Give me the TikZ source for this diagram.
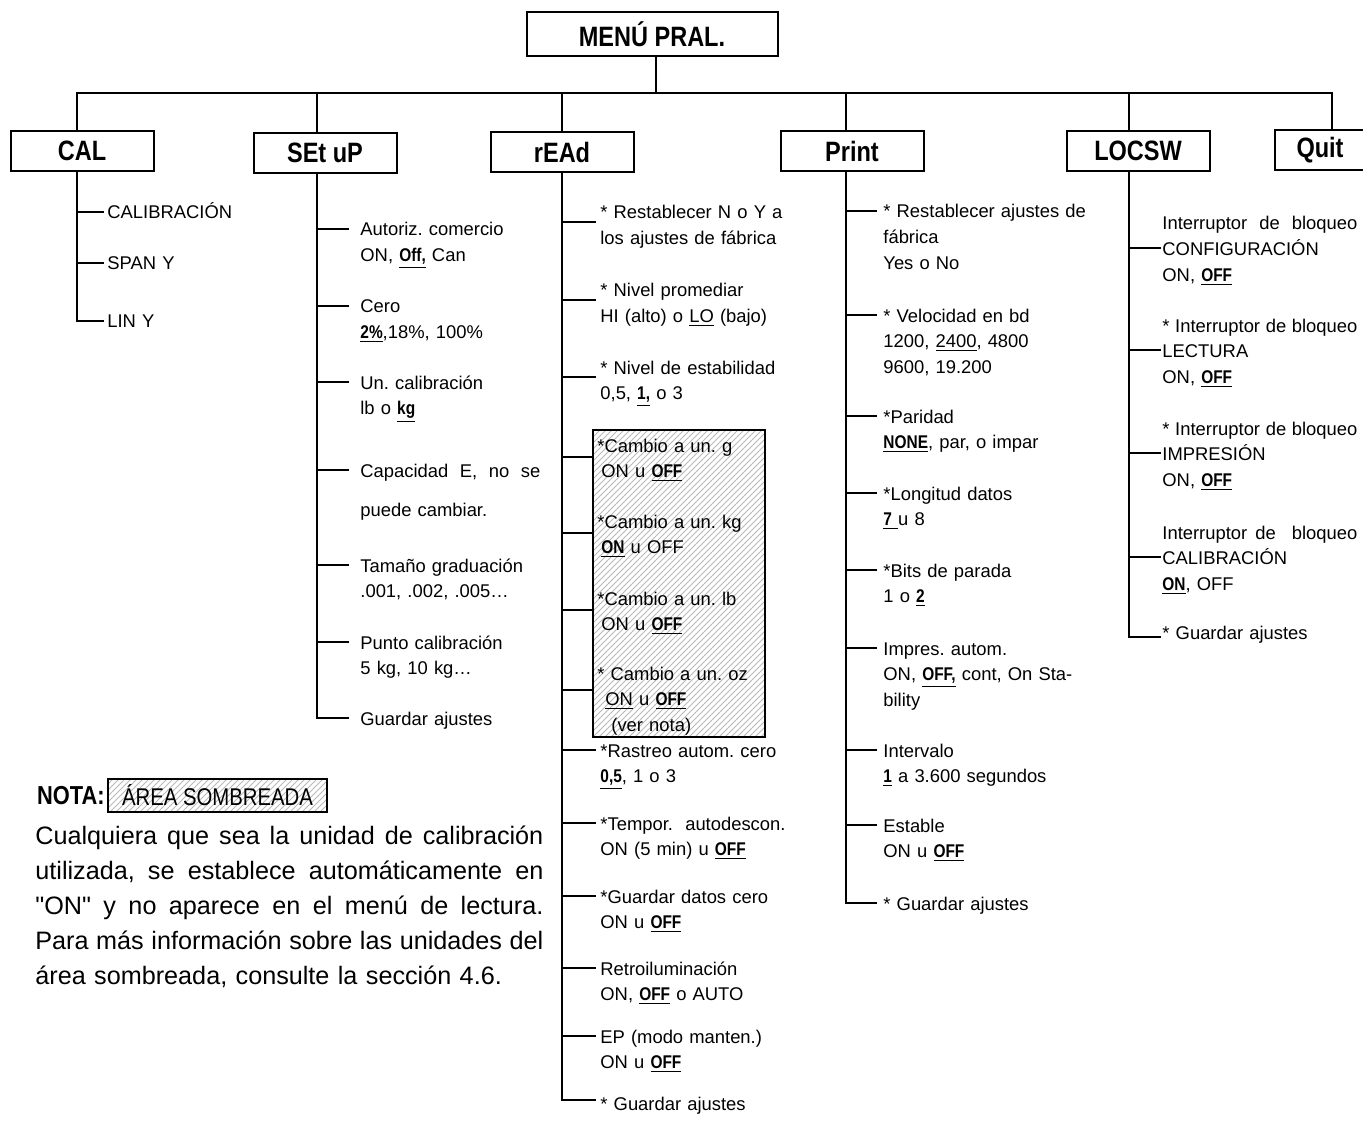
\documentclass[tikz,border=0pt]{standalone}
\usepackage{fontspec}
\setmainfont{Liberation Sans}[Ligatures=TeXOff]
\newfontfamily\condfont{Liberation Sans}[FakeStretch=0.84]
\usetikzlibrary{positioning,patterns,fit}
\newcommand\ubf[1]{\underline{{\condfont\bfseries #1}}}
\newcommand\spread[2]{\leavevmode\hbox to #1{\spaceskip=.28em plus 1fil\relax #2}}
\frenchspacing

\begin{document}
\begin{tikzpicture}[x=0.5pt,y=-0.5pt]
  \tikzset{menubox/.style={draw, line width=1pt, minimum width=71.5pt, minimum height=20pt,
      inner sep=0pt, font=\condfont\bfseries\fontsize{14}{14}\selectfont},
    item/.style={anchor=base west, inner sep=0pt, text width=125pt, align=left,
      font=\fontsize{9.2}{12.8}\selectfont},
    shaded/.style={draw, line width=1.2pt, pattern=north east lines, pattern color=gray!55},
    wire/.style={line width=1.1pt, line cap=rect}}
  \useasboundingbox (0,0) rectangle (1363,1144);

  \node[menubox, minimum width=125.5pt, minimum height=22pt] (main) at (652,34) {MENÚ PRAL.};
  \coordinate (top) at (656,93);
  \draw[wire] (main.south -| top) -- (top);
  \foreach \n/\x in {cal/77,setup/317,read/562,print/846,locsw/1129,quit/1332}
    \coordinate (d\n) at (\x,93);
  \draw[wire] (dcal) -- (dquit);

  \node[menubox] (cal) at (82,151) {CAL};
  \node[menubox] (setup) at (325,153) {SEt uP};
  \node[menubox] (read) at (562,152) {rEAd};
  \node[menubox] (print) at (852,151) {Print};
  \node[menubox] (locsw) at (1138,151) {LOCSW};
  \node[menubox, minimum width=45pt] (quit) at (1320,150) {Quit};
  \foreach \n in {cal,setup,read,print,locsw,quit}
    \draw[wire] (d\n) -- (d\n |- \n.north);

  % CAL
  \foreach \k/\yb/\txt in {1/212/{CALIBRACIÓN}, 2/263/{SPAN Y}, 3/321/{LIN Y}}{
    \coordinate (cb\k) at (77,\yb);
    \node[item] (ct\k) at (107,\yb+7) {\txt};
    \draw[wire, shorten >=2pt] (cb\k) -- (cb\k -| ct\k.west);
  }
  \draw[wire] (dcal |- cal.south) -- (cb3);

  % SEt uP
  \foreach \k/\yb/\txt in {1/229/{Autoriz. comercio\\ON, \ubf{Off,} Can},
      2/306/{Cero\\\ubf{2\%},18\%, 100\%},
      3/382/{Un. calibración\\lb o \ubf{kg}},
      4/470/{\spread{90pt}{Capacidad E, no se}\\[7pt]puede cambiar.},
      5/565/{Tamaño graduación\\.001, .002, .005…},
      6/642/{Punto calibración\\5 kg, 10 kg…},
      7/718/{Guardar ajustes}}{
    \coordinate (sb\k) at (317,\yb);
    \node[item] (st\k) at (360,\yb+7) {\txt};
    \draw[wire, shorten >=6pt] (sb\k) -- (sb\k -| st\k.west);
  }
  \draw[wire] (dsetup |- setup.south) -- (sb7);

  % rEAd
  \node[shaded, inner sep=0pt, fit={(593,430) (765,737)}] (shade) {};
  \foreach \k/\yb/\yt/\txt in {1/222/219/{* Restablecer N o Y a\\los ajustes de fábrica},
      2/300/297/{* Nivel promediar\\HI (alto) o \underline{LO} (bajo)},
      3/377/374/{* Nivel de estabilidad\\0,5, \ubf{1,} o 3},
      8/750/757/{*Rastreo autom. cero\\\ubf{0,5}, 1 o 3},
      9/823/830/{*Tempor.\ \ autodescon.\\ON (5 min) u \ubf{OFF}},
      10/896/903/{*Guardar datos cero\\ON u \ubf{OFF}},
      11/968/975/{Retroiluminación\\ON, \ubf{OFF} o AUTO},
      12/1036/1043/{EP (modo manten.)\\ON u \ubf{OFF}},
      13/1100/1110/{* Guardar ajustes}}{
    \coordinate (rb\k) at (562,\yb);
    \node[item] (rt\k) at (600,\yt) {\txt};
    \draw[wire, shorten >=2.5pt] (rb\k) -- (rb\k -| rt\k.west);
  }
  \foreach \k/\yb/\yt/\txt in {4/457/452/{*Cambio a un. g\\\hspace{2pt}ON u \ubf{OFF}},
      5/533/528/{*Cambio a un. kg\\\hspace{2pt}\ubf{ON} u OFF},
      6/610/605/{*Cambio a un. lb\\\hspace{2pt}ON u \ubf{OFF}},
      7/690/680/{* Cambio a un. oz\\\hspace{4pt}\underline{ON} u \ubf{OFF}\\\hspace{7pt}(ver nota)}}{
    \coordinate (rb\k) at (562,\yb);
    \node[item] (rt\k) at (597,\yt) {\txt};
    \draw[wire] (rb\k) -- (rb\k -| shade.west);
  }
  \draw[wire] (dread |- read.south) -- (rb13);

  % Print
  \foreach \k/\yb/\txt in {1/211/{* Restablecer ajustes de\\fábrica\\Yes o No},
      2/315/{* Velocidad en bd\\1200, \underline{2400}, 4800\\9600, 19.200},
      3/416/{*Paridad\\\ubf{NONE}, par, o impar},
      4/493/{*Longitud datos\\\ubf{7\ }u 8},
      5/570/{*Bits de parada\\1 o \ubf{2}},
      6/648/{Impres. autom.\\ON, \ubf{OFF,} cont, On Sta-\\bility},
      7/750/{Intervalo\\\ubf{1} a 3.600 segundos},
      8/825/{Estable\\ON u \ubf{OFF}},
      9/903/{* Guardar ajustes}}{
    \coordinate (pb\k) at (846,\yb);
    \node[item] (pt\k) at (883,\yb+7) {\txt};
    \draw[wire, shorten >=3.5pt] (pb\k) -- (pb\k -| pt\k.west);
  }
  \draw[wire] (dprint |- print.south) -- (pb9);

  % LOCSW
  \foreach \k/\yb/\yt/\txt in {1/248/230/{\spread{97.5pt}{Interruptor de bloqueo}\\CONFIGURACIÓN\\ON, \ubf{OFF}},
      2/350/332/{\spread{97.5pt}{* Interruptor de bloqueo}\\LECTURA\\ON, \ubf{OFF}},
      3/453/435/{\spread{97.5pt}{* Interruptor de bloqueo}\\IMPRESIÓN\\ON, \ubf{OFF}},
      4/557/539/{\spread{97.5pt}{Interruptor de \ bloqueo}\\CALIBRACIÓN\\\ubf{ON}, OFF},
      5/637/639/{* Guardar ajustes}}{
    \coordinate (lb\k) at (1129,\yb);
    \node[item] (lt\k) at (1162,\yt) {\txt};
    \draw[wire, shorten >=1pt] (lb\k) -- (lb\k -| lt\k.west);
  }
  \draw[wire] (dlocsw |- locsw.south) -- (lb5);

  % NOTA
  \node[anchor=base east, inner sep=0pt, font=\condfont\bfseries\fontsize{13}{13}\selectfont]
    (nota) at (105,804) {NOTA:};
  \node[shaded, line width=1pt, anchor=west, inner sep=0pt, minimum width=109.5pt, minimum height=16.5pt,
    font=\condfont\fontsize{12.1}{12.1}\selectfont] (area) at (107,795.5) {ÁREA SOMBREADA};
  \node[anchor=base west, inner sep=0pt, text width=254pt, align=left,
    font=\fontsize{12.6}{17.5}\selectfont] (notetext) at (35,844)
    {\spread{\linewidth}{Cualquiera que sea la unidad de calibración}\\
     \spread{\linewidth}{utilizada, se establece automáticamente en}\\
     \spread{\linewidth}{"ON" y no aparece en el menú de lectura.}\\
     \spread{\linewidth}{Para más información sobre las unidades del}\\
     área sombreada, consulte la sección 4.6.};
\end{tikzpicture}
\end{document}
